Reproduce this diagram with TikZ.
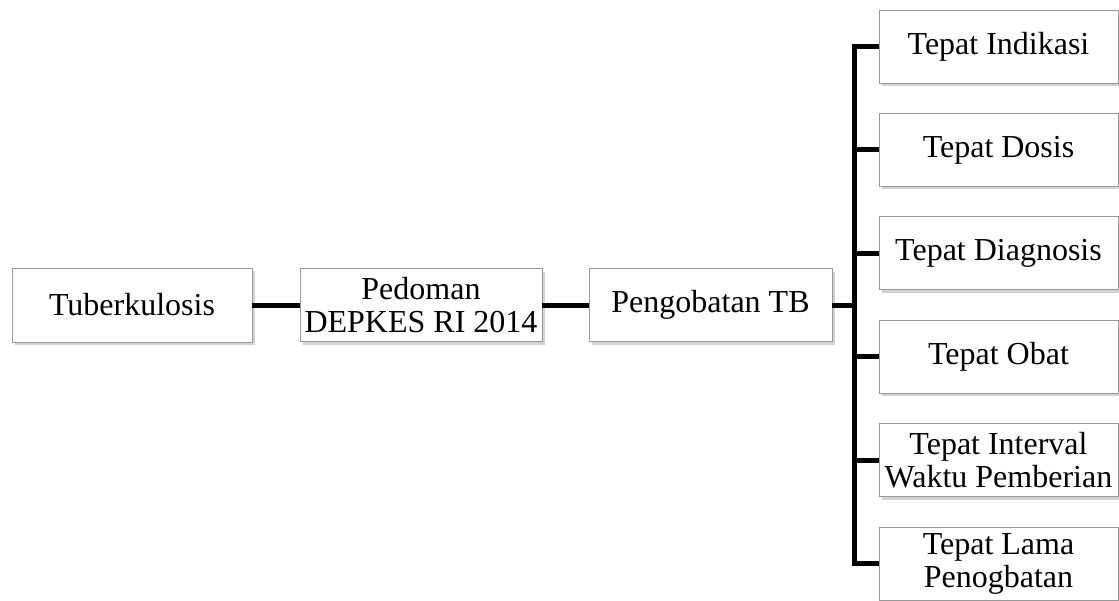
\documentclass[tikz,border=0pt]{standalone}
\usepackage{fontspec}
\setmainfont{Liberation Serif}
\usetikzlibrary{shadows}
\begin{document}
\begin{tikzpicture}[x=1pt,y=-1pt,
  box/.style={draw=black!40, line width=0.8pt, fill=white, align=center,
    inner sep=0pt, font=\fontsize{32}{33}\selectfont,
    drop shadow={opacity=0.35, shadow xshift=2.5pt, shadow yshift=-3pt}},
  link/.style={line width=5pt, black, line join=miter}]
\useasboundingbox (0,0) rectangle (1119,600);
\clip (0,0) rectangle (1119,600);
\node[box, minimum width=240pt, minimum height=74pt] (tb) at (132,305) {Tuberkulosis};
\node[box, minimum width=242pt, minimum height=73pt] (ped) at (421,305) {Pedoman\\DEPKES RI 2014};
\node[box, minimum width=243pt, minimum height=73pt] (peng) at (710.5,305) {Pengobatan TB};
\foreach \n/\t [count=\k from 0] in {r1/Tepat Indikasi, r2/Tepat Dosis, r3/Tepat Diagnosis, r4/Tepat Obat, r5/{Tepat Interval\\Waktu Pemberian}, r6/{Tepat Lama\\Penogbatan}}
  \node[box, minimum width=239pt, minimum height=73pt] (\n) at (998.5,46.5+103.4*\k) {\t};
\coordinate (bus) at (854.5,305);
\draw[link] (tb.east) -- (ped.west);
\draw[link] (ped.east) -- (peng.west);
\draw[link] (peng.east) -- (bus);
\draw[link] (bus) |- (r1.west);
\draw[link] (bus) |- (r6.west);
\foreach \n in {r2,r3,r4,r5}
  \draw[link] (bus |- \n.west) -- (\n.west);
\end{tikzpicture}
\end{document}
